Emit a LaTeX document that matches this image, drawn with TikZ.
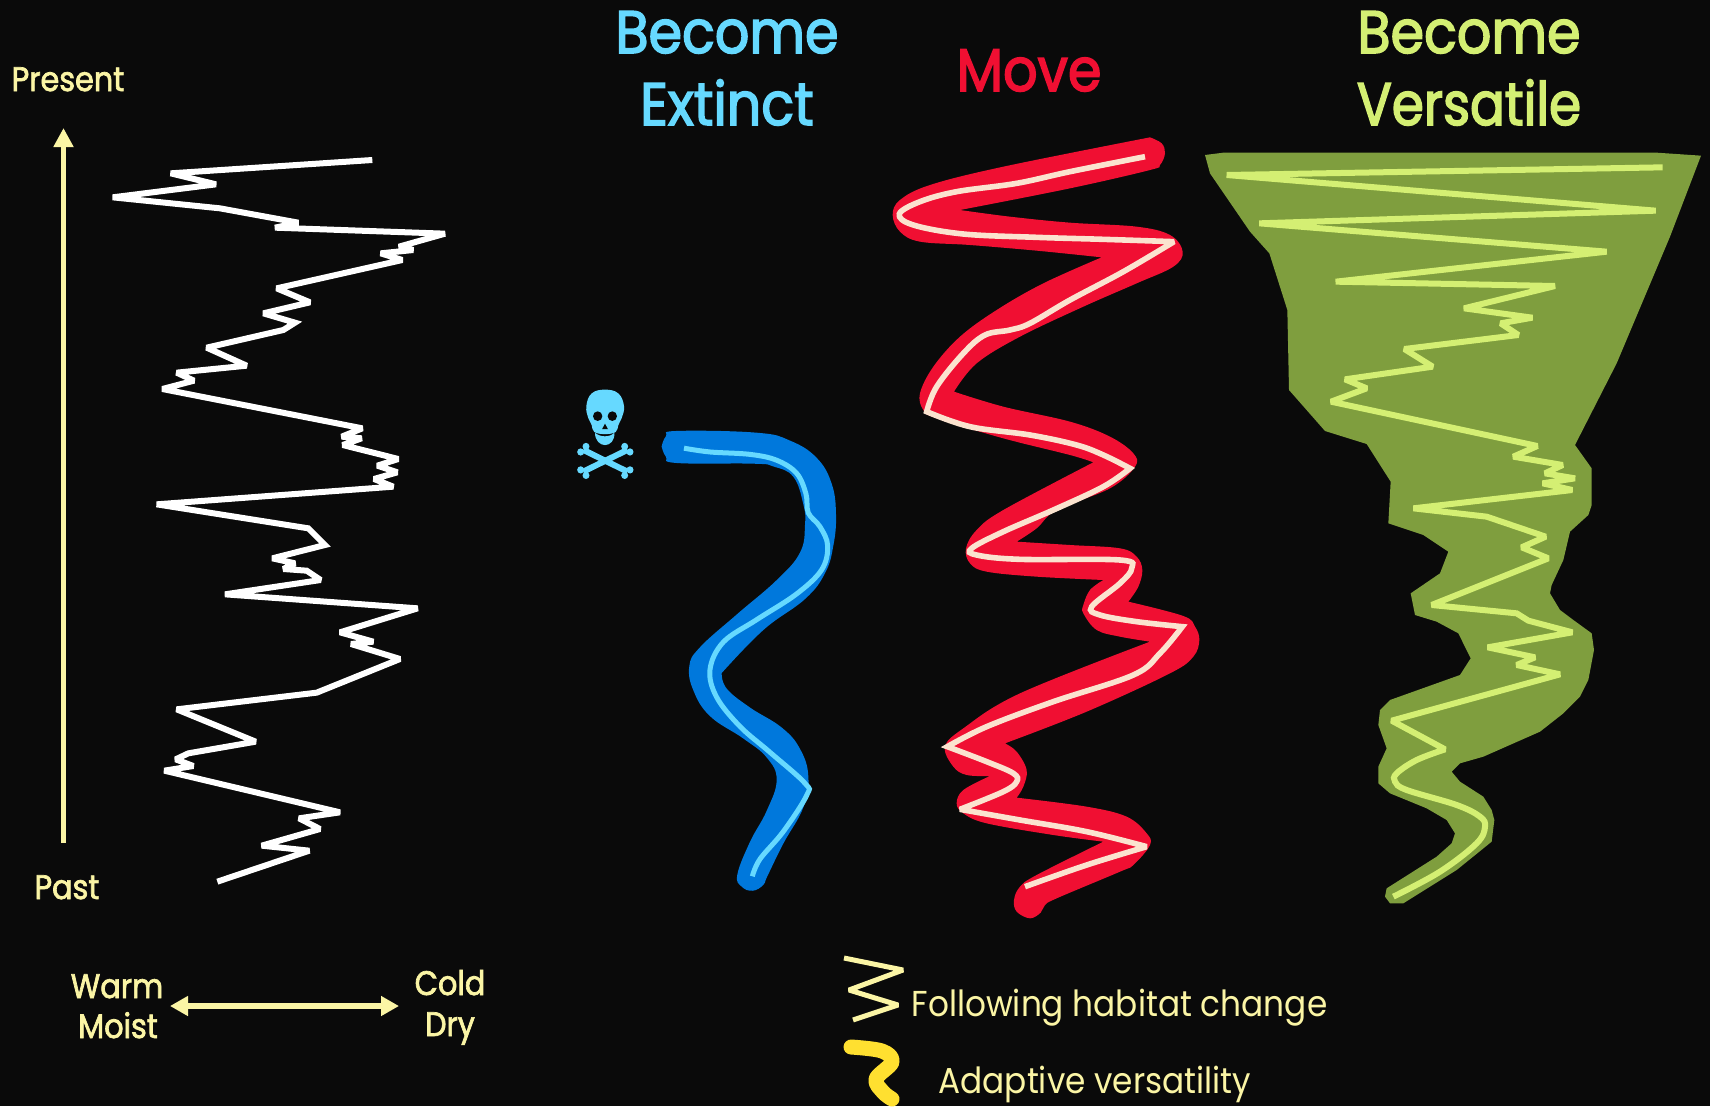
\documentclass[tikz,border=0pt]{standalone}
\usepackage{fontspec}
\setmainfont{Poppins}
\newfontfamily\titlef[FakeStretch=0.90,FakeBold=2.5]{Poppins}
\newfontfamily\titlev[FakeStretch=0.86,FakeBold=2.5]{Poppins}
\newfontfamily\labelf[FakeStretch=0.89,FakeBold=2]{Poppins}
\newfontfamily\legf[FakeStretch=0.91]{Poppins}
\definecolor{bg}{HTML}{0A0A0A}
\definecolor{axisc}{HTML}{FBF5A5}
\definecolor{cyanl}{HTML}{66D9FF}
\definecolor{blued}{HTML}{0078DC}
\definecolor{redd}{HTML}{F00F32}
\definecolor{creaml}{HTML}{FBE3CF}
\definecolor{greend}{HTML}{7F9E3E}
\definecolor{greenl}{HTML}{D4EF73}
\definecolor{yell}{HTML}{FFE030}
\tikzset{
 zoomfr/.style n args={2}{shift={(#1,#2)},x=0.33333pt,y=-0.33333pt},
 zoomfrb/.style n args={2}{shift={(#1,#2)},x=0.33333pt,y=-0.3444pt},
 trace/.style={line width=6pt,line join=miter,miter limit=2.5},
 thinline/.style={line width=5.6pt,line join=miter,miter limit=3},
 sm/.style={smooth,tension=0.6},
 axisline/.style={line width=5.5pt,axisc,-{Triangle[length=19pt,width=19pt]}},
 bothline/.style={line width=5.5pt,axisc,{Triangle[length=18pt,width=19pt]}-{Triangle[length=18pt,width=19pt]}},
 title/.style={anchor=base,font=\titlef\fontsize{60}{60}\selectfont},
 lab/.style={anchor=base,axisc,font=\labelf\fontsize{34}{34}\selectfont},
 leg/.style={anchor=base west,axisc,font=\legf\fontsize{36}{36}\selectfont},
}
\usetikzlibrary{arrows.meta}
\begin{document}
\begin{tikzpicture}[x=1pt,y=-1pt]
\useasboundingbox (0,0) rectangle (1710,1106);
\fill[bg] (0,0) rectangle (1710,1106);

% axis
\coordinate (axB) at (63.5,843);
\coordinate (axT) at (63.5,128);
\draw[axisline] (axB) -- (axT);
\coordinate (hL) at (170,1006);
\coordinate (hR) at (399,1006);
\draw[bothline] (hL) -- (hR);

% white climate trace
\begin{scope}[zoomfr={0}{100}]
\draw[white,trace] (1117,180)--(512,220)--(648,253)--(338,292)--(660,325)--(895,368)--(825,383)--(1335,401)--(1197,440)--(1240,450)--(1142,460)--(1207,480)--(830,565)--(930,607)--(790,640)--(885,668)--(850,690)--(620,743)--(740,797)--(530,818)--(582,842)--(487,867)--(1087,985)--(1025,1010)--(1085,1015)--(1028,1035)--(1195,1077)--(1132,1097)--(1192,1117)--(1122,1137)--(1180,1160)--(470,1213)
--(925,1285)--(975,1335)--(817,1375)--(885,1390)--(850,1407)--(920,1412)--(962,1440)--(675,1483)--(1253,1525)--(1020,1597)--(1120,1625)--(1053,1632)--(1200,1677)--(950,1778)--(530,1828)--(767,1925)--(565,1960)--(527,1978)--(580,1998)--(493,2012)--(1020,2137)--(897,2155)--(960,2187)--(785,2237)--(928,2252)--(652,2345);
\end{scope}

% blue: become extinct
\begin{scope}[zoomfrb={550}{370}]
\fill[blued] plot[smooth,tension=0.7] coordinates {(335,222)(348,192)(380,177)(620,182)(720,205)(800,255)(845,330)(858,420)(850,510)(825,590)(765,665)(640,755)(515,880)}
 -- plot[smooth,tension=0.7] coordinates {(515,880)(530,925)(600,980)(695,1038)(750,1100)(775,1180)(760,1270)(700,1375)(652,1470)(640,1495)(608,1512)(575,1500)(562,1465)(600,1370)(650,1280)(680,1190)(650,1125)(580,1070)(480,1005)(430,930)(418,860)(450,805)(560,710)(680,610)(750,530)(765,450)(760,390)(730,310)(670,280)(610,272)(380,270)(348,252)(335,222)} -- cycle;
\draw[cyanl,line width=5pt] plot[sm] coordinates {(402,227)(480,238)(600,245)(680,262)(740,300)(768,360)(775,415)(810,455)(833,510)(815,580)(740,650)(620,725)(520,790)(480,870)(500,950)(570,1035)(660,1110)(765,1200)(770,1235)(700,1340)(630,1420)(607,1470)};
% skull
\fill[cyanl] plot[smooth cycle,tension=0.7] coordinates {(165,57)(205,68)(222,105)(215,140)(205,160)(197,180)(165,186)(133,180)(125,160)(115,140)(109,105)(125,68)};
\fill[cyanl] (135,182) .. controls (150,196) and (180,196) .. (193,182) .. controls (195,205) and (180,218) .. (165,218) .. controls (150,218) and (135,205) .. (135,182) -- cycle;
\fill[bg] (143,134) circle[radius=14];
\fill[bg] (187,134) circle[radius=14];
\fill[bg] (165,156)--(156,172)--(174,172)--cycle;
\draw[cyanl,line width=6pt] (100,232)--(232,295);
\draw[cyanl,line width=6pt] (232,232)--(100,295);
\foreach \a/\b in {92/238,108/222,224/222,240/238,92/290,108/306,224/306,240/290}{\fill[cyanl] (\a,\b) circle[radius=10.5];}
\end{scope}

% red: move
\begin{scope}[zoomfr={870}{120}]
\fill[redd] plot[sm] coordinates {(840,52)(875,70)(885,100)(870,135)(840,150)(600,205)(270,270)}
 -- plot[sm] coordinates {(270,270)(420,290)(600,308)(800,320)(900,345)(938,395)(910,440)(800,490)(640,560)(450,650)(320,730)(252,815)}
 -- plot[sm] coordinates {(252,815)(400,860)(600,905)(720,950)(790,1000)(795,1040)(720,1105)(560,1170)(500,1225)(440,1265)}
 -- plot[sm] coordinates {(440,1265)(600,1275)(750,1285)(800,1310)(817,1350)(805,1400)(775,1445)}
 -- plot[sm] coordinates {(775,1445)(940,1488)(975,1520)(988,1560)(970,1610)(900,1660)(650,1775)(405,1870)}
 -- plot[sm] coordinates {(405,1870)(440,1895)(470,1950)(460,2000)(440,2033)}
 -- plot[sm] coordinates {(440,2033)(650,2060)(770,2090)(830,2140)(840,2175)(790,2235)(750,2255)(560,2335)(525,2355)(512,2378)(480,2395)(440,2375)(432,2340)(450,2300)(500,2265)(700,2165)}
 -- plot[sm] coordinates {(700,2165)(550,2145)(350,2110)(280,2080)(260,2050)(280,2010)(360,1968)}
 -- plot[sm] coordinates {(360,1968)(290,1965)(250,1940)(225,1880)(280,1825)(450,1720)(840,1565)}
 -- plot[sm] coordinates {(840,1565)(750,1550)(680,1530)(640,1480)(640,1455)(660,1410)(700,1380)}
 -- plot[sm] coordinates {(700,1380)(500,1370)(350,1355)(300,1330)(288,1285)(320,1230)(400,1170)(670,1027)}
 -- plot[sm] coordinates {(670,1027)(600,1005)(400,955)(200,895)(160,870)(150,820)(190,740)(270,650)(380,570)(520,490)(695,412)}
 -- plot[sm] coordinates {(695,412)(500,392)(300,375)(150,365)(90,335)(68,285)(90,240)(180,195)(400,140)(840,52)} -- cycle;
\draw[creaml,thinline] plot[sm] coordinates {(825,110)(600,155)(440,190)(260,215)(150,245)(88,282)(130,315)(280,342)(500,352)(700,358)(912,365)}
 -- plot[sm] coordinates {(912,365)(760,455)(600,540)(480,610)(420,630)(345,645)(280,700)(200,800)(170,875)}
 -- plot[sm] coordinates {(170,875)(300,920)(480,945)(620,975)(700,1005)(780,1045)}
 -- plot[sm] coordinates {(780,1045)(700,1100)(550,1170)(400,1235)(305,1285)(320,1305)(450,1318)(750,1320)(785,1345)(750,1390)(665,1460)(690,1485)(800,1505)(937,1520)}
 -- plot[sm] coordinates {(937,1520)(870,1600)(790,1665)(550,1745)(350,1820)(232,1880)}
 -- plot[sm] coordinates {(232,1880)(350,1925)(430,1960)(440,1985)(400,2015)(270,2068)}
 -- plot[sm] coordinates {(270,2068)(450,2100)(650,2135)(830,2180)}
 -- plot[sm] coordinates {(830,2180)(650,2235)(465,2300)};
\end{scope}

% green: become versatile
\begin{scope}[zoomfr={1190}{140}]
\fill[greend] (45,45)--(100,38)--(1400,38)--(1533,47)--(1440,290)--(1280,670)--(1155,915)--(1205,985)--(1205,1095)--(1195,1125)--(1140,1175)--(1120,1260)--(1085,1335)--(1080,1360)--(1110,1410)--(1150,1440)--(1205,1480)--(1212,1530)--(1195,1620)--(1170,1670)--(1120,1720)--(1050,1775)--(880,1850)--(810,1870)--(785,1895)--(810,1925)--(880,1970)--(905,2010)--(913,2040)--(905,2105)--(800,2190)--(640,2290)--(600,2290)--(585,2270)--(590,2245)--(740,2150)--(785,2110)--(795,2080)--(770,2040)--(710,2005)--(600,1960)--(565,1930)--(565,1880)--(590,1825)--(565,1755)--(570,1710)--(600,1680)--(810,1605)--(842,1555)--(805,1480)--(740,1445)--(675,1425)--(662,1360)--(750,1300)--(775,1235)--(700,1185)--(595,1150)--(602,1025)--(530,912)--(405,873)--(297,750)--(292,510)--(238,340)--(180,275)--(60,100)--cycle;
\draw[greenl,trace] (1418,82)--(110,105)--(1397,212)--(208,250)--(1250,335)--(437,425)--(1095,438)--(822,505)--(1027,533)--(932,550)--(985,585)--(643,627)--(728,680)--(465,718)--(530,745)--(423,785)--(1042,918)--(970,950)--(1118,975)--(1065,1000)--(1155,1015)--(1058,1030)--(1147,1050)--(670,1105)--(890,1130)--(1067,1190)--(995,1222)--(1075,1255)--(725,1395)--(980,1420)--(1015,1442)--(1147,1477)--(893,1522)--(1035,1552)--(980,1575)--(1110,1603)--(605,1742)--(765,1828)
 -- plot[sm] coordinates {(765,1828)(680,1860)(620,1900)(615,1925)(650,1950)(800,1995)(870,2030)(885,2060)(860,2110)(750,2195)(610,2270)};
\end{scope}

% legend marks
\coordinate (z1) at (844,958);\coordinate (z2) at (903,970);\coordinate (z3) at (849,990);\coordinate (z4) at (898,1005);\coordinate (z5) at (853,1020);
\draw[axisc,line width=5pt,line join=miter,miter limit=3] (z1)--(z2)--(z3)--(z4)--(z5);
\draw[yell,line width=15pt,line cap=round,line join=round] plot[sm] coordinates {(851,1047)(882,1051)(892,1062)(876,1079)(883,1092)(892,1099)};

% titles
\node[title,cyanl] (be1) at (727,53) {Become};
\node[title,cyanl] (be2) at (727,125) {Extinct};
\node[title,redd] (mv) at (1029,91) {Move};
\node[title,greenl] (bv1) at (1469,53) {Become};
\node[title,greenl,font=\titlev\fontsize{60}{60}\selectfont] (bv2) at (1469,125) {Versatile};
% labels
\node[lab] (pres) at (68,91) {Present};
\node[lab] (past) at (67,899) {Past};
\node[lab] (warm) at (117,998) {Warm};
\node[lab] (moist) at (118,1038) {Moist};
\node[lab] (cold) at (450,995) {Cold};
\node[lab] (dry) at (450,1036) {Dry};
\node[leg] (fh) at (908,1016) {Following habitat change};
\node[leg] (av) at (935,1093) {Adaptive versatility};
\end{tikzpicture}
\end{document}
